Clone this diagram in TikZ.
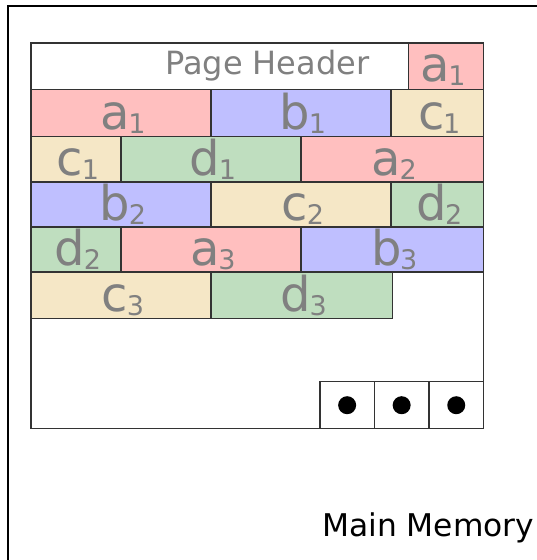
\documentclass[tikz,border=0pt]{standalone}
\usepackage{fontspec}
\setmainfont{DejaVu Sans}
\definecolor{cred}{HTML}{FFBFBF}
\definecolor{cblue}{HTML}{BFBFFF}
\definecolor{cbeige}{HTML}{F5E7C6}
\definecolor{cgreen}{HTML}{BFDEBF}
\definecolor{labgray}{HTML}{808080}
\definecolor{edge}{HTML}{333333}
\newcommand\lab[2]{{\fontsize{48}{48}\selectfont #1}\kern-1.5pt\raisebox{-4pt}{\fontsize{27}{27}\selectfont #2}}
\newcommand\mcell[8]{%
  \node[cellbox, fill=#6, minimum width={(#3-#2)*1pt}, minimum height={(#5-#4)*1pt}] (#1) at (#2,#4) {};
  \node[labtext] (#1l) at ([xshift=2pt,yshift=7pt]#1.south) {\lab{#7}{#8}};}
\tikzset{
  cellbox/.style={draw=edge, line width=1.1pt, anchor=north west, inner sep=0pt, outer sep=0pt, rectangle},
  labtext/.style={anchor=base, inner sep=0pt, text=labgray},
  dotbox/.style={draw=edge, line width=1.1pt, anchor=north west, inner sep=0pt, outer sep=0pt, minimum height=47pt},
  dot/.style={circle, fill=black, minimum size=18pt, inner sep=0pt},
}
\begin{document}
\begin{tikzpicture}[x=1pt,y=-1pt]
\useasboundingbox (0,0) rectangle (536,560);
% outer frame
\coordinate (obl) at (8,566);
\coordinate (otl) at (8,6);
\coordinate (otr) at (542,6);
\draw[line width=2pt, line cap=rect] (obl) -- (otl) -- (otr);
% page
\node[cellbox, fill=white, minimum width=452.5pt, minimum height=385.7pt] (page) at (31,43) {};
% header row
\node[cellbox, fill=white, minimum width=377.7pt, minimum height=46.5pt] (hdr) at (31,43) {};
\node[anchor=base west, inner sep=0pt, text=labgray, font=\fontsize{32}{32}\selectfont] (hdrt) at (165,74.5) {Page Header};
\node[cellbox, fill=cred, minimum width=74.8pt, minimum height=46.5pt] (h1) at (408.7,43) {};
\node[labtext] (h1l) at ([xshift=-3pt,yshift=8pt]h1.south) {\lab{a}{1}};
% row 1
\mcell{r1a}{31}{211}{89.5}{136.5}{cred}{a}{1}
\mcell{r1b}{211}{391}{89.5}{136.5}{cblue}{b}{1}
\mcell{r1c}{391}{483.5}{89.5}{136.5}{cbeige}{c}{1}
% row 2
\mcell{r2a}{31}{121}{136.5}{182}{cbeige}{c}{1}
\mcell{r2b}{121}{301}{136.5}{182}{cgreen}{d}{1}
\mcell{r2c}{301}{483.5}{136.5}{182}{cred}{a}{2}
% row 3
\mcell{r3a}{31}{211}{182}{227}{cblue}{b}{2}
\mcell{r3b}{211}{391}{182}{227}{cbeige}{c}{2}
\mcell{r3c}{391}{483.5}{182}{227}{cgreen}{d}{2}
% row 4
\mcell{r4a}{31}{121}{227}{272}{cgreen}{d}{2}
\mcell{r4b}{121}{301}{227}{272}{cred}{a}{3}
\mcell{r4c}{301}{483.5}{227}{272}{cblue}{b}{3}
% row 5
\mcell{r5a}{31}{211}{272}{318.5}{cbeige}{c}{3}
\mcell{r5b}{211}{392.7}{272}{318.5}{cgreen}{d}{3}
% dots
\node[dotbox, minimum width=54.3pt] (s1) at (320,381.7) {};
\node[dotbox, minimum width=54.7pt] (s2) at (374.3,381.7) {};
\node[dotbox, minimum width=54.5pt] (s3) at (429,381.7) {};
\node[dot] (d1) at (s1.center) {};
\node[dot] (d2) at (s2.center) {};
\node[dot] (d3) at (s3.center) {};
% caption
\node[anchor=base west, inner sep=0pt, font=\fontsize{31.3}{31.3}\selectfont] (mm) at (322,536.7) {Main Memory};
\end{tikzpicture}
\end{document}
